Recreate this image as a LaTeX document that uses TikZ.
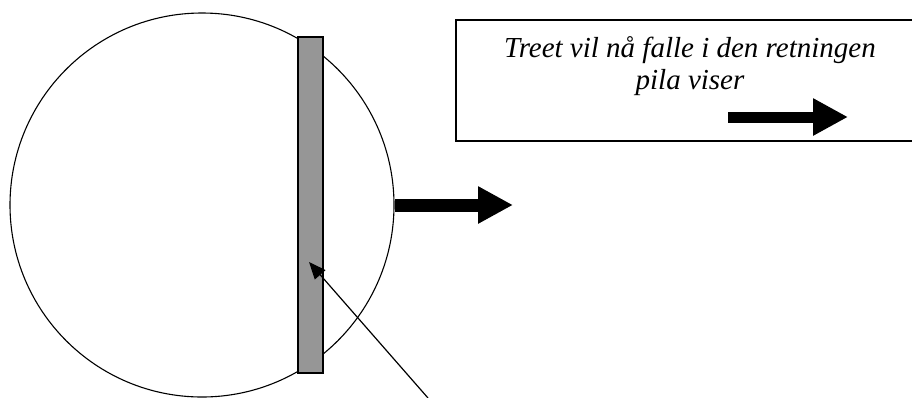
\documentclass[tikz,border=0pt]{standalone}
\usepackage{fontspec}
\setmainfont{Liberation Serif}
\usetikzlibrary{arrows.meta}
\begin{document}
\begin{tikzpicture}[x=1pt,y=-1pt,
  treecircle/.style={draw=black, line width=1.1pt, circle, minimum size=384pt, inner sep=0pt},
  trunkbox/.style={draw=black, line width=1.3pt, fill={rgb,255:red,150;green,150;blue,150}, minimum width=25pt, minimum height=336pt, inner sep=0pt},
  infobox/.style={draw=black, line width=1.5pt, minimum width=474pt, minimum height=121pt, inner sep=0pt},
  bigarrow/.style={line width=13pt, -{Triangle[length=35pt,width=35pt]}},
  smallarrow/.style={line width=11pt, -{Triangle[length=35pt,width=35pt]}},
  pointer/.style={line width=1.2pt, -{Triangle[length=17pt,width=14pt]}}
]
\useasboundingbox (0,0) rectangle (912,397);
\node[treecircle] (tree) at (202,205) {};
\node[trunkbox] (trunk) at (310.5,205) {};
\node[infobox] (info) at (693,80.5) {};
\node[font=\fontsize{29}{32}\selectfont\itshape, align=center, anchor=base, inner sep=0pt] (label) at (690,89) {Treet vil nå falle i den retningen\\pila viser};
\coordinate (bigend) at (513,205);
\draw[bigarrow] (tree.east) -- (bigend);
\coordinate (smallstart) at (728,117);
\coordinate (smallend) at (848,117);
\draw[smallarrow] (smallstart) -- (smallend);
\coordinate (pointerstart) at (428,398);
\coordinate (pointertip) at (309,262);
\draw[pointer] (pointerstart) -- (pointertip);
\end{tikzpicture}
\end{document}
